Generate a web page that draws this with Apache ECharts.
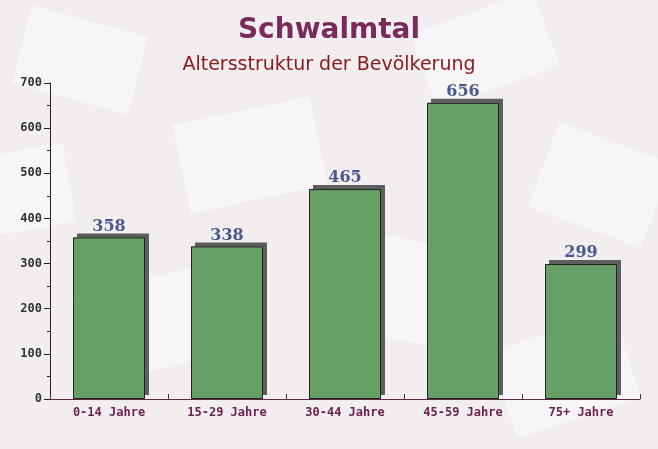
<!DOCTYPE html>
<html><head><meta charset="utf-8">
<script src="https://cdn.jsdelivr.net/npm/echarts@6/dist/echarts.min.js"></script>
<style>html,body{margin:0;padding:0;background:#f2eeef}#c{width:658px;height:449px}</style>
</head><body><div id="c"></div>
<script>
const categories = ["0-14 Jahre","15-29 Jahre","30-44 Jahre","45-59 Jahre","75+ Jahre"];
const values = [358, 338, 465, 656, 299];
const yTicks = [0,100,200,300,400,500,600,700];

const chart = echarts.init(document.getElementById('c'), null, {renderer:'canvas'});
const bgShapes = [
  {x:20,y:20,w:120,h:80,r:-15},{x:180,y:110,w:140,h:90,r:12},{x:420,y:10,w:130,h:80,r:20},
  {x:540,y:140,w:120,h:90,r:-20},{x:80,y:280,w:140,h:90,r:15},{x:330,y:240,w:150,h:100,r:-12},
  {x:500,y:330,w:130,h:90,r:18},{x:-20,y:150,w:90,h:80,r:10}
];
chart.setOption({
  backgroundColor:'#f2eeef',
  graphic: bgShapes.map(s=>({type:'rect',silent:true,z:-10,x:s.x+s.w/2,y:s.y+s.h/2,rotation:s.r*Math.PI/180,
    shape:{x:-s.w/2,y:-s.h/2,width:s.w,height:s.h},style:{fill:'rgba(255,255,255,0.4)'}})),
  title:[
    {text:'Schwalmtal',left:'center',top:12,textStyle:{fontFamily:'DejaVu Sans',fontWeight:'bold',fontSize:28,color:'#7a2b5b'}},
    {text:'Altersstruktur der Bevölkerung',left:'center',top:51,textStyle:{fontFamily:'DejaVu Sans',fontWeight:'normal',fontSize:19,color:'#8b1a1a'}}
  ],
  grid:{left:50,right:18,top:83,bottom:50},
  xAxis:{type:'category',data:categories,
    axisLine:{lineStyle:{color:'#5a2a40',width:1}},
    axisTick:{show:true,inside:true,length:5,lineStyle:{color:'#5a2a40'}},
    axisLabel:{fontFamily:'DejaVu Sans Mono',fontWeight:'bold',fontSize:12,color:'#6b1f4b',margin:8}},
  yAxis:{type:'value',min:0,max:700,interval:100,
    axisLine:{show:true,lineStyle:{color:'#222'}},
    axisTick:{show:true,length:6,lineStyle:{color:'#222'}},
    minorTick:{show:true,splitNumber:2,length:3,lineStyle:{color:'#222'}},
    splitLine:{show:false},
    axisLabel:{fontFamily:'DejaVu Sans Mono',fontWeight:'bold',fontSize:12,color:'#333',margin:8}},
  series:[
    {type:'bar',data:values,barWidth:'61%',barGap:'-100%',silent:true,z:1,
      itemStyle:{color:'#67a067',borderWidth:0,shadowColor:'#5e5e5e',shadowBlur:0,shadowOffsetX:4,shadowOffsetY:-4}},
    {type:'bar',data:values,barWidth:'61%',barGap:'-100%',z:2,
      itemStyle:{color:'#67a067',borderColor:'#222',borderWidth:1},
      label:{show:true,position:'top',distance:3,fontFamily:'DejaVu Serif',fontWeight:'bold',fontSize:16,color:'#4b5a8b'}}
  ]
});
</script></body></html>
